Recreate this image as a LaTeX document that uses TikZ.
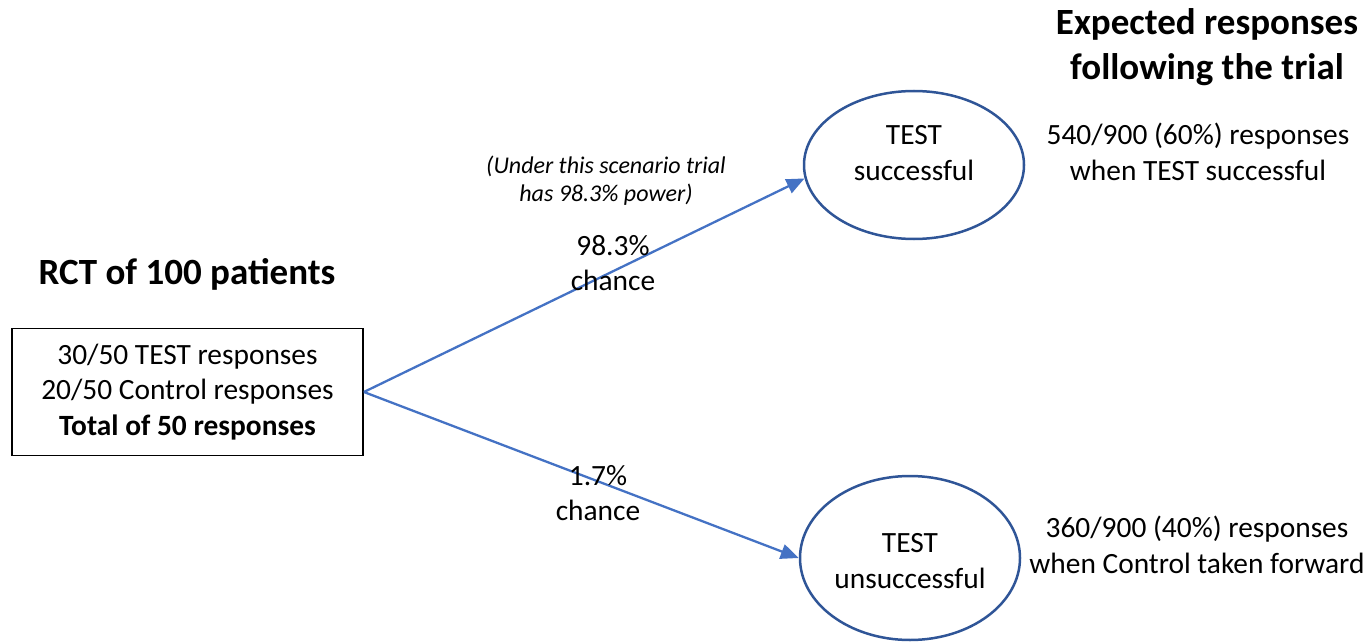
\documentclass[tikz,border=0pt]{standalone}
\usepackage{fontspec}
\setmainfont{Carlito}
\usepackage{xcolor}
\usetikzlibrary{arrows.meta, positioning, shapes}

\definecolor{arrowblue}{HTML}{4472C4}
\definecolor{edgeblue}{HTML}{2F5597}

\begin{document}
\begin{tikzpicture}[x=1pt, y=-1pt,
    body/.style={font=\fontsize{29.4}{35.4}\selectfont, align=center, inner sep=0pt},
    heading/.style={font=\fontsize{37}{45}\selectfont\bfseries, align=center, inner sep=0pt},
    note/.style={font=\fontsize{24}{28}\selectfont\itshape, align=center, inner sep=0pt},
    outcome/.style={ellipse, draw=edgeblue, line width=2.5pt, minimum width=220pt, inner sep=0pt},
    branch/.style={arrowblue, line width=2.3pt, -{Triangle[length=18pt, width=15pt]}}
  ]
      % Fix the page to the picture size
      \useasboundingbox (0,0) rectangle (1369,642);

      % Trial box on the left
      \node[heading] (rctTitle) at (187,274) {RCT of 100 patients};
      \node[body, draw, line width=1.8pt, minimum width=351pt, minimum height=127pt] (trial) at (187.5,392)
        {30/50 TEST responses\\20/50 Control responses\\\textbf{Total of 50 responses}};

      % Outcome ellipses
      \node[outcome, minimum height=148pt,
        label={[body, yshift=12pt]center:{TEST\\successful}}] (succ) at (914,165) {};
      \node[outcome, minimum height=164pt,
        label={[body, yshift=-3pt]center:{TEST\\unsuccessful}}] (unsucc) at (910,558) {};

      % Branches from the trial
      \draw[branch] (trial.east) -- (succ.187);
      \draw[branch] (trial.east) -- (unsucc.west);

      % Branch labels
      \node[note] (powerNote) at (606,181) {(Under this scenario trial\\has 98.3\% power)};
      \node[body] (pHigh) at (613,263) {98.3\%\\chance};
      \node[body] (pLow) at (598,493) {1.7\%\\chance};

      % Expected responses on the right
      \node[heading] (expTitle) at (1207,47) {Expected responses\\following the trial};
      \node[body] (succResp) at (1198,152) {540/900 (60\%) responses\\when TEST successful};
      \node[body] (unsuccResp) at (1197,545) {360/900 (40\%) responses\\when Control taken forward};

\end{tikzpicture}
\end{document}
